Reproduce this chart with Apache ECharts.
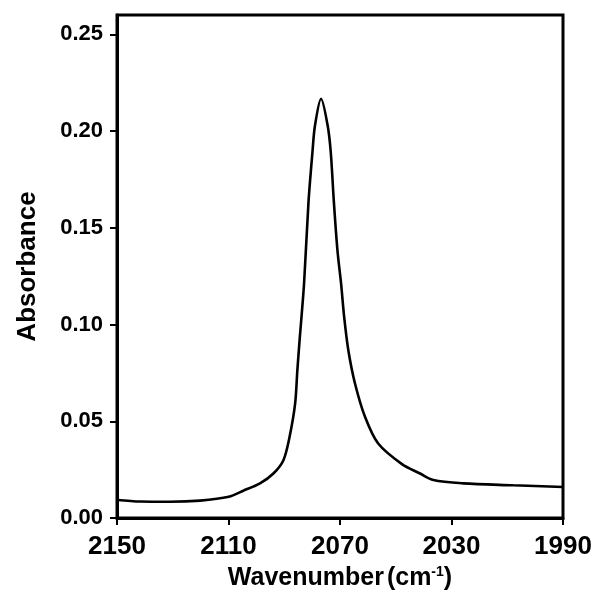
<!DOCTYPE html>
<html>
<head>
<meta charset="utf-8">
<script src="https://cdn.jsdelivr.net/npm/echarts@6/dist/echarts.min.js"></script>
<style>
html,body{margin:0;padding:0;background:#fff;}
#chart{width:595px;height:604px;}
</style>
</head>
<body>
<div id="chart"></div>
<script>
// Wavenumber (cm-1) and absorbance
var wavenumbers = [2150.0, 2141.7, 2131.0, 2120.2, 2109.9, 2104.7, 2098.7, 2093.9, 2090.3, 2088.1, 2086.1, 2085.3, 2084.5, 2082.9, 2081.3, 2079.9, 2079.0, 2076.8, 2074.4, 2073.3, 2072.2, 2070.9, 2069.6, 2068.5, 2067.0, 2064.6, 2061.0, 2056.3, 2047.9, 2041.3, 2036.5, 2025.8, 2007.8, 1990.0];
var absorbance  = [0.0093, 0.0085, 0.0084, 0.0090, 0.0110, 0.0141, 0.0179, 0.0230, 0.0299, 0.0419, 0.0591, 0.0763, 0.0918, 0.1210, 0.1634, 0.1888, 0.2026, 0.2167, 0.2026, 0.1888, 0.1634, 0.1381, 0.1210, 0.1038, 0.0866, 0.0694, 0.0522, 0.0385, 0.0280, 0.0230, 0.0196, 0.0179, 0.0169, 0.0160];
var xTicks = [2150, 2110, 2070, 2030, 1990];
var yTicks = [0.00, 0.05, 0.10, 0.15, 0.20, 0.25];

var seriesData = wavenumbers.map(function (w, i) { return [w, absorbance[i]]; });
var font = 'Liberation Sans, Arial, sans-serif';

var chart = echarts.init(document.getElementById('chart'), null, {renderer: 'canvas'});
chart.setOption({
  animation: false,
  backgroundColor: '#ffffff',
  grid: {left: 117, right: 32, top: 15, bottom: 86, show: true, borderColor: '#000', borderWidth: 3,
    backgroundColor: 'transparent', containLabel: false, outerBoundsMode: 'none'},
  xAxis: {
    type: 'value', min: 1990, max: 2150, inverse: true,
    axisLine: {show: true, onZero: false, lineStyle: {color: '#000', width: 3}},
    axisTick: {show: true, length: 7, lineStyle: {color: '#000', width: 2}, customValues: xTicks},
    axisLabel: {customValues: xTicks, color: '#000', fontFamily: font, fontWeight: 'bold', fontSize: 26, margin: 16,
      formatter: function (v) { return String(v); }},
    splitLine: {show: false},
    name: '{t|Wavenumber}{g|(cm}{s|-1}{t|)}',
    nameLocation: 'middle', nameGap: 46,
    nameTextStyle: {rich: {
      t: {fontFamily: font, fontWeight: 'bold', fontSize: 25, color: '#000'},
      g: {fontFamily: font, fontWeight: 'bold', fontSize: 25, color: '#000', padding: [0,0,0,3]},
      s: {fontFamily: font, fontWeight: 'bold', fontSize: 14, color: '#000', verticalAlign: 'top', padding: [0,0,12,0]}
    }}
  },
  yAxis: {
    type: 'value', min: 0, max: 0.26,
    axisLine: {show: true, lineStyle: {color: '#000', width: 3}},
    axisTick: {show: true, length: 7, lineStyle: {color: '#000', width: 2}, customValues: yTicks},
    axisLabel: {customValues: yTicks, color: '#000', fontFamily: font, fontWeight: 'bold', fontSize: 22, margin: 14,
      formatter: function (v) { return v.toFixed(2); }},
    splitLine: {show: false},
    name: 'Absorbance', nameLocation: 'middle', nameGap: 76,
    nameTextStyle: {fontFamily: font, fontWeight: 'bold', fontSize: 26, color: '#000'}
  },
  series: [{
    type: 'line', data: seriesData, showSymbol: false, smooth: 0.3,
    lineStyle: {color: '#000', width: 2.6}
  }]
});
</script>
</body>
</html>
